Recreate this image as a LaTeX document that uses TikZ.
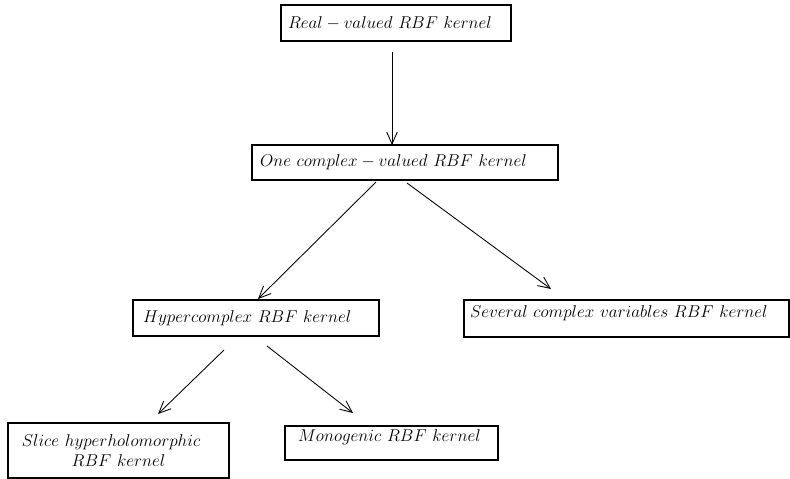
\documentclass[tikz,border=0pt]{standalone}
\usepackage{graphicx}
\usetikzlibrary{arrows.meta,calc}
\newcommand{\boxtxt}[1]{\scalebox{1.07}{$#1$}}
\begin{document}
\begin{tikzpicture}[x=0.75pt,y=-0.75pt,
  box/.style={draw, line width=0.8pt, anchor=north west, inner ysep=0pt, outer sep=0pt, align=left,
    font=\fontsize{12}{14.5}\selectfont},
  arr/.style={line width=0.65pt, -{Straight Barb[length=9pt,width=8pt,line width=0.65pt]}}]
\useasboundingbox (0,0) rectangle (790,479);

\node[box, minimum width=172.5pt, minimum height=27pt, inner xsep=5.25pt, text width=162pt] (real) at (281,5)
  {\boxtxt{Real-valued\ RBF\ kernel}};
\node[box, minimum width=229.5pt, minimum height=26.25pt, inner xsep=6pt, text width=217.5pt] (one) at (252,145)
  {\boxtxt{One\ complex-valued\ RBF\ kernel}};
\node[box, minimum width=184.5pt, minimum height=27pt, inner xsep=7.5pt, text width=169.5pt] (hyper) at (133,300)
  {\boxtxt{Hypercomplex\ RBF\ kernel}};
\node[box, minimum width=243.75pt, minimum height=27.75pt, inner xsep=4.5pt, text width=234.75pt, text depth=10pt] (several) at (464,300)
  {\boxtxt{Several\ complex\ variables\ RBF\ kernel}};
\node[box, minimum width=165.75pt, minimum height=41.25pt, inner xsep=5pt, text width=155.75pt, align=center] (slice) at (8,423)
  {\boxtxt{Slice\ hyperholomorphic}\rule{11pt}{0pt}\\\boxtxt{RBF\ kernel}};
\node[box, minimum width=159.75pt, minimum height=25.5pt, inner xsep=9.75pt, text width=140.25pt, text depth=11.5pt] (mono) at (285,426)
  {\boxtxt{Monogenic\ RBF\ kernel}};

\draw[arr] ($(real.south)+(-4,11)$) -- ($(one.north)+(-13,0)$);
\draw[arr] ($(one.south)+(-29,2)$) -- ($(hyper.north)+(2,-1)$);
\draw[arr] ($(one.south)+(2,3)$) -- ($(several.north west)+(87,-11)$);
\draw[arr] ($(hyper.south)+(-32,14)$) -- ($(slice.north)+(39.5,-9)$);
\draw[arr] ($(hyper.south)+(11,10)$) -- ($(mono.north west)+(68,-13)$);
\end{tikzpicture}
\end{document}
